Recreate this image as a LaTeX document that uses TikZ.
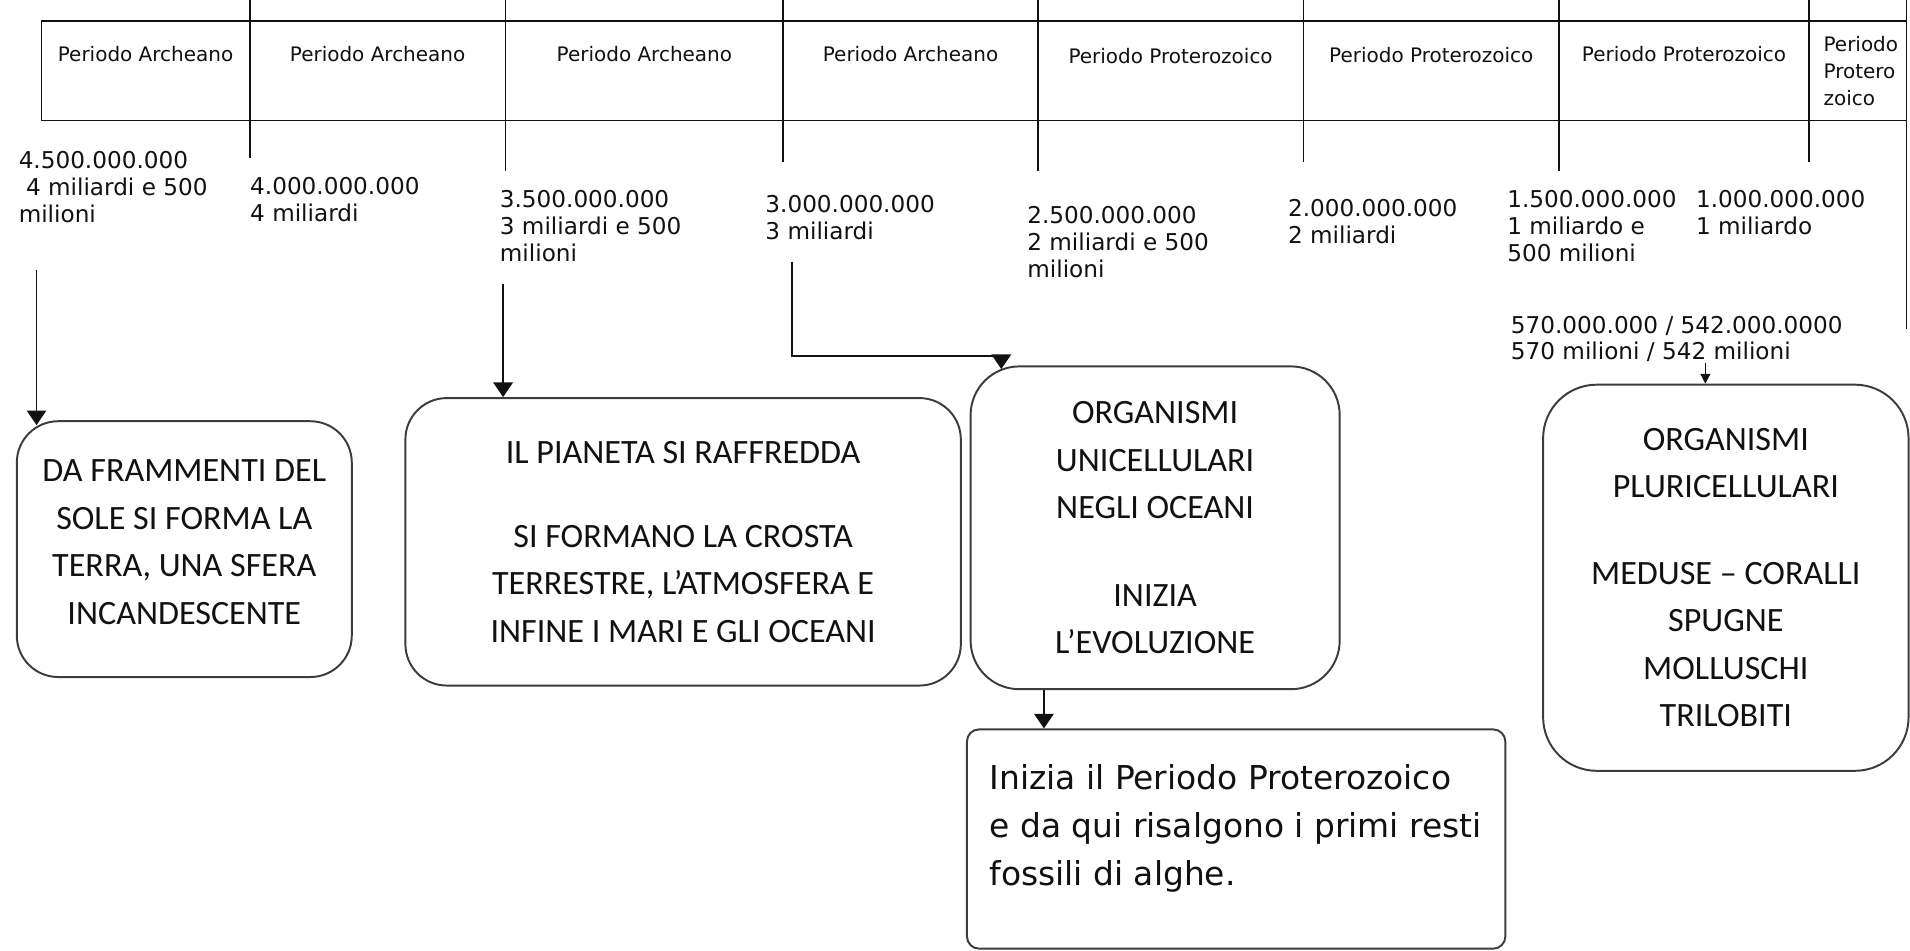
\documentclass[tikz,border=0pt]{standalone}
\usepackage{fontspec}
\setmainfont{Carlito}
\newfontfamily\periodfont{DejaVu Sans}
\usetikzlibrary{arrows.meta, positioning, calc}
\definecolor{kink}{HTML}{111111}
\definecolor{kframe}{HTML}{3C3C3C}

\begin{document}
\begin{tikzpicture}[x=0.5pt, y=-0.5pt, node distance=0pt]

\tikzstyle{cell} = [rectangle, draw=kink, line width=0.7pt, minimum height=41pt, inner sep=0pt, outer sep=0pt]
\tikzstyle{celltext} = [text=kink, font=\periodfont\fontsize{8.2}{11}\selectfont, align=center]
\tikzstyle{date} = [text=kink, font=\periodfont\fontsize{9.5}{11}\selectfont, align=left, anchor=north west, inner sep=0pt]
\tikzstyle{box} = [rectangle, draw=kframe, line width=0.8pt, anchor=north west, align=center, text=kink, font=\fontsize{14}{19.5}\selectfont]
\tikzstyle{note} = [text=kink, font=\periodfont\fontsize{13.5}{19.75}\selectfont, align=left, inner sep=0pt]
\tikzstyle{arrow} = [-{Triangle[width=8pt, length=6pt]}, kink, line width=0.7pt]
\tikzstyle{smallarrow} = [-{Triangle[width=4pt, length=4pt]}, kink, line width=0.6pt]
\tikzstyle{divider} = [kink, line width=0.7pt]

\useasboundingbox (0,0) rectangle (1568,780);

% Periods
\node[cell, anchor=north west, minimum width=85.5pt] (c1) at (34,17) {};
\node[cell, right=of c1, minimum width=105pt] (c2) {};
\node[cell, right=of c2, minimum width=114pt] (c3) {};
\node[cell, right=of c3, minimum width=104.5pt] (c4) {};
\node[cell, right=of c4, minimum width=109pt] (c5) {};
\node[cell, right=of c5, minimum width=105pt] (c6) {};
\node[cell, right=of c6, minimum width=102.5pt] (c7) {};
\node[cell, right=of c7, minimum width=40pt] (c8) {};

\node[celltext, below=7pt of c1.north] (p1) {Periodo Archeano};
\node[celltext, below=7pt of c2.north] (p2) {Periodo Archeano};
\node[celltext, below=7pt of c3.north] (p3) {Periodo Archeano};
\node[celltext, below=7pt of c4.north] (p4) {Periodo Archeano};
\node[celltext, below=8pt of c5.north] (p5) {Periodo Proterozoico};
\node[celltext, below=7.5pt of c6.north] (p6) {Periodo Proterozoico};
\node[celltext, below=7pt of c7.north] (p7) {Periodo Proterozoico};
\node[celltext, align=left, below right=3pt and 2.5pt of c8.north west] (p8) {Periodo\\Protero\\zoico};

\foreach \c/\d in {c1/31, c2/41, c3/34, c4/41, c5/34, c6/41, c7/34, c8/171}
  \draw[divider] (\c.north east) -- ++(0,-17) (\c.south east) -- ++(0,\d);

% Dates
\node[date] (d45) at (15,124) {4.500.000.000\\\hspace*{3pt}4 miliardi e 500\\milioni};
\node[date] (d40) at (205,145) {4.000.000.000\\4 miliardi};
\node[date] (d35) at (410,156) {3.500.000.000\\3 miliardi e 500\\milioni};
\node[date] (d30) at (628,160) {3.000.000.000\\3 miliardi};
\node[date] (d25) at (843,169) {2.500.000.000\\2 miliardi e 500\\milioni};
\node[date] (d20) at (1057,163) {2.000.000.000\\2 miliardi};
\node[date] (d15) at (1237,156) {1.500.000.000\\1 miliardo e\\500 milioni};
\node[date] (d10) at (1392,156) {1.000.000.000\\1 miliardo};
\node[date] (d570) at (1240,259) {570.000.000 / 542.000.0000\\570 milioni / 542 milioni};

% Events
\node[box, minimum width=137.5pt, minimum height=105pt, rounded corners=17pt] (terra) at (13,345) {DA FRAMMENTI DEL\\SOLE SI FORMA LA\\TERRA, UNA SFERA\\INCANDESCENTE\\[-13.5pt]};
\node[box, minimum width=228pt, minimum height=118pt, rounded corners=17pt] (pianeta) at (332,326) {IL PIANETA SI RAFFREDDA\\[15pt]SI FORMANO LA CROSTA\\TERRESTRE, L’ATMOSFERA E\\INFINE I MARI E GLI OCEANI};
\node[box, minimum width=151.5pt, minimum height=132.5pt, rounded corners=20pt] (unicell) at (796,300) {ORGANISMI\\UNICELLULARI\\NEGLI OCEANI\\[16.5pt]INIZIA\\L’EVOLUZIONE};
\node[box, minimum width=221pt, minimum height=90pt, rounded corners=5pt] (fossili) at (793,598) {};
\node[note, below right=14.5pt and 9.5pt of fossili.north west] (fossilitxt) {Inizia il Periodo Proterozoico\\e da qui risalgono i primi resti\\fossili di alghe.};
\node[box, minimum width=150pt, minimum height=158.5pt, rounded corners=22pt] (pluricell) at (1266,315) {ORGANISMI\\PLURICELLULARI\\[16pt]MEDUSE – CORALLI\\SPUGNE\\MOLLUSCHI\\TRILOBITI};

% Arrows
\coordinate (a1) at (30,222);
\coordinate (a2) at (413,233);
\coordinate (a3) at (650,215);
\coordinate (k3) at (822,292);
\coordinate (a4) at (857,0);
\coordinate (a5) at (1400,0);

\draw[arrow] (a1) -- ($(a1 |- terra.north)+(0,4)$);
\draw[arrow] (a2) -- (a2 |- pianeta.north);
\draw[arrow] (a3) |- (k3) -- ($(k3 |- unicell.north)+(0,3)$);
\draw[arrow] (unicell.south -| a4) -- (fossili.north -| a4);
\draw[smallarrow] (d570.south -| a5) -- (pluricell.north -| a5);

\end{tikzpicture}
\end{document}
